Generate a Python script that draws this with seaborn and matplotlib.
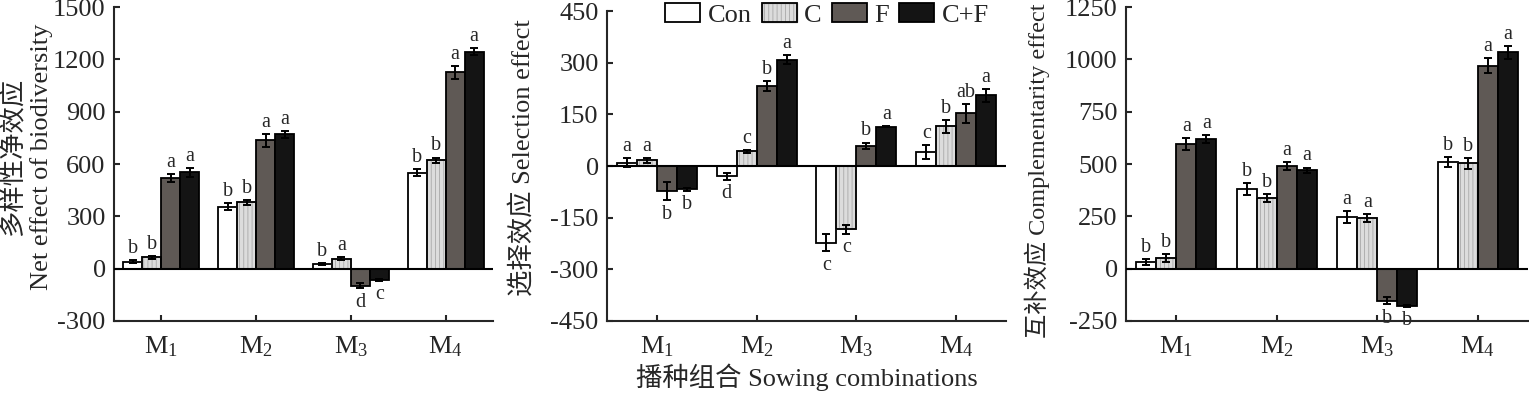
import numpy as np
import pandas as pd
import matplotlib
matplotlib.use("Agg")
import matplotlib.pyplot as plt
import seaborn as sns
from matplotlib.patches import Patch, Rectangle

# ---- data ----
combos = ["M1", "M2", "M3", "M4"]
combo_labels = ["M$_1$", "M$_2$", "M$_3$", "M$_4$"]
treatments = ["Con", "C", "F", "C+F"]

# rows = sowing combination, cols = Con, C, F, C+F
net_mean = [[40, 65, 520, 552], [355, 380, 735, 770], [25, 58, -98, -63], [550, 622, 1125, 1243]]
net_err = [[10, 8, 25, 25], [20, 15, 35, 20], [5, 10, 15, 5], [20, 15, 35, 20]]
net_letters = [["b", "b", "a", "a"], ["b", "b", "a", "a"], ["b", "a", "d", "c"], ["b", "b", "a", "a"]]

sel_mean = [[10, 16, -73, -68], [-30, 43, 232, 308], [-223, -184, 58, 114], [40, 115, 153, 205]]
sel_err = [[12, 8, 27, 5], [10, 4, 15, 13], [25, 13, 10, 2], [20, 18, 27, 18]]
sel_letters = [["a", "a", "b", "b"], ["d", "c", "b", "a"], ["c", "c", "b", "a"], ["c", "b", "ab", "a"]]

comp_mean = [[32, 52, 595, 620], [381, 337, 489, 471], [247, 242, -153, -179], [509, 503, 970, 1033]]
comp_err = [[15, 18, 30, 20], [30, 20, 20, 12], [30, 18, 18, 5], [25, 25, 35, 30]]
comp_letters = [["b", "b", "a", "a"], ["b", "b", "a", "a"], ["a", "a", "b", "b"], ["b", "b", "a", "a"]]

bar_colors = {"Con": "#ffffff", "C": "#dcdcdc", "F": "#5f5955", "C+F": "#141414"}

# ---- style ----
sns.set_style("ticks")
plt.rcParams["font.family"] = ["Liberation Serif", "Noto Sans CJK SC"]
plt.rcParams["mathtext.fontset"] = "custom"
plt.rcParams["mathtext.rm"] = "Liberation Serif"
plt.rcParams["mathtext.it"] = "Liberation Serif:italic"
plt.rcParams["axes.unicode_minus"] = False
plt.rcParams["hatch.linewidth"] = 0.6
FS = 19


def effect_panel(ax, means, errs, letters, ylim, step, ylabel, ylabel_size=FS):
    df = pd.DataFrame({"combo": np.repeat(combos, len(treatments)),
                       "treat": treatments * len(combos),
                       "value": np.ravel(means)})
    sns.barplot(data=df, x="combo", y="value", hue="treat", order=combos,
                hue_order=treatments, palette=bar_colors, errorbar=None,
                width=0.8, saturation=1, edgecolor="black", linewidth=1.3,
                legend=False, ax=ax)
    for bar in list(ax.patches):
        xc = bar.get_x() + bar.get_width() / 2
        i = int(round(xc))
        j = int((xc - i + 0.4) // 0.2)
        m, e = means[i][j], errs[i][j]
        if treatments[j] == "C":
            # light hatch inside, black outline on top
            bar.set_hatch("||||")
            bar.set_edgecolor("#a8a8a8")
            ax.add_patch(Rectangle(bar.get_xy(), bar.get_width(), bar.get_height(),
                                   fill=False, ec="black", lw=1.3, zorder=bar.get_zorder() + 0.1))
        ax.errorbar(xc, m, yerr=e, fmt="none", ecolor="black", elinewidth=1.4,
                    capsize=2.8, capthick=1.4, zorder=5)
        if m >= 0:
            ax.annotate(letters[i][j], (xc, m + e), xytext=(0, 1.5), textcoords="offset points",
                        ha="center", va="bottom", fontsize=14.5)
        else:
            ax.annotate(letters[i][j], (xc, m - e), xytext=(0, -3), textcoords="offset points",
                        ha="center", va="top", fontsize=14.5)
    ax.axhline(0, color="black", lw=1.5, zorder=6)
    ax.set_xlim(-0.5, 3.5)
    ax.set_ylim(*ylim)
    ax.set_yticks(np.arange(ylim[0], ylim[1] + 1, step))
    ax.set_xticks(range(len(combos)))
    ax.set_xticklabels(combo_labels)
    sns.despine(ax=ax)
    for s in ["left", "bottom"]:
        ax.spines[s].set_linewidth(1.5)
    ax.tick_params(axis="both", direction="in", length=4, width=1.5, labelsize=FS)
    ax.tick_params(axis="y", pad=6)
    ax.tick_params(axis="x", pad=10)
    ax.set_xlabel("")
    ax.set_ylabel(ylabel, fontsize=ylabel_size, va="center", linespacing=1.25)


fig = plt.figure(figsize=(15.29, 3.94), dpi=100)
ax1 = fig.add_axes([0.07456, 0.18528, 0.24788, 0.79695])
ax2 = fig.add_axes([0.39699, 0.18528, 0.26096, 0.78680])
ax3 = fig.add_axes([0.73643, 0.18528, 0.26292, 0.79695])

effect_panel(ax1, net_mean, net_err, net_letters, (-300, 1500), 300,
             "多样性净效应\nNet effect of biodiversity")
effect_panel(ax2, sel_mean, sel_err, sel_letters, (-450, 450), 150,
             "选择效应 Selection effect")
effect_panel(ax3, comp_mean, comp_err, comp_letters, (-250, 1250), 250,
             "互补效应 Complementarity effect", ylabel_size=17.5)

ax1.yaxis.set_label_coords(-0.230, 0.522)
ax2.yaxis.set_label_coords(-0.21, 0.526)
ax3.yaxis.set_label_coords(-0.221, 0.478)

ax2.set_xlabel("播种组合 Sowing combinations", fontsize=FS, labelpad=3)

handles = []
for t in treatments:
    if t == "C":
        handles.append((Patch(fc=bar_colors[t], ec="#a8a8a8", hatch="||||"),
                        Patch(fill=False, ec="black", lw=1.3)))
    else:
        handles.append(Patch(fc=bar_colors[t], ec="black", lw=1.3))
fig.legend(handles, treatments, loc="center", bbox_to_anchor=(0.541, 0.963),
           ncol=4, frameon=False, fontsize=FS, borderpad=0, borderaxespad=0,
           handlelength=1.33, handleheight=0.75, handletextpad=0.28, columnspacing=0.38)

fig.savefig("out.png", dpi=100)
